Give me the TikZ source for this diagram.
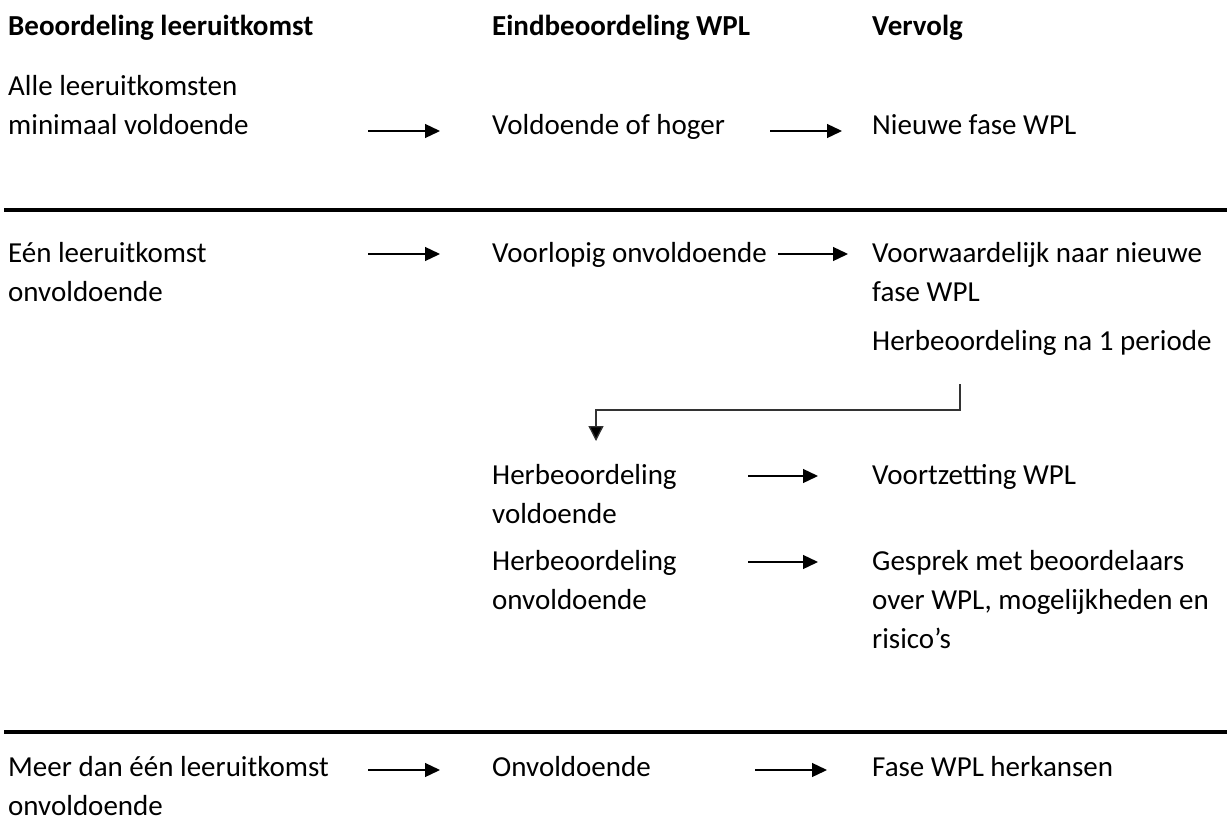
\documentclass[tikz,border=0pt]{standalone}
\usepackage{fontspec}
\setmainfont{Carlito}
\usetikzlibrary{arrows.meta}
\begin{document}
\begin{tikzpicture}[x=1pt,y=-1pt,
  txt/.style={anchor=base west,inner sep=0pt,align=left,font=\fontsize{29}{39}\selectfont},
  hdr/.style={anchor=base west,inner sep=0pt,align=left,font=\fontsize{29}{39}\selectfont\bfseries},
  arr/.style={line width=1.3pt,-{Triangle[length=15pt,width=14pt]}},
  rulebar/.style={line width=4pt},
  elbow/.style={line width=1.3pt,draw=black!80,-{Triangle[length=15pt,width=15pt,fill=black]}}]
\useasboundingbox (0,0) rectangle (1227,822);

% headers
\node[hdr] (h1) at (8,35) {Beoordeling leeruitkomst};
\node[hdr] (h2) at (492,35) {Eindbeoordeling WPL};
\node[hdr] (h3) at (872,35) {Vervolg};

% row 1 (anchor = baseline of last line)
\node[txt] (a1) at (8,134) {Alle leeruitkomsten\\minimaal voldoende};
\node[txt] (b1) at (492,134) {Voldoende of hoger};
\node[txt] (c1) at (872,134) {Nieuwe fase WPL};
\coordinate (a1s) at (368,131); \coordinate (a1e) at (440,131);
\coordinate (b1s) at (770,131); \coordinate (b1e) at (842,131);
\draw[arr] (a1s) -- (a1e);
\draw[arr] (b1s) -- (b1e);

\coordinate (r1l) at (4,210); \coordinate (r1r) at (1227,210);
\draw[rulebar] (r1l) -- (r1r);

% row 2
\node[txt] (a2) at (8,301) {Eén leeruitkomst\\onvoldoende};
\node[txt] (b2) at (492,262) {Voorlopig onvoldoende};
\node[txt] (c2) at (872,301) {Voorwaardelijk naar nieuwe\\fase WPL};
\node[txt] (c2b) at (872,350) {Herbeoordeling na 1 periode};
\coordinate (a2s) at (368,254); \coordinate (a2e) at (440,254);
\coordinate (b2s) at (778,254); \coordinate (b2e) at (848,254);
\draw[arr] (a2s) -- (a2e);
\draw[arr] (b2s) -- (b2e);

\coordinate (e1) at (960,384); \coordinate (e2) at (960,410);
\coordinate (e3) at (596,410); \coordinate (e4) at (596,441);
\draw[elbow] (e1) -- (e2) -- (e3) -- (e4);

\node[txt] (b3) at (492,523) {Herbeoordeling\\voldoende};
\node[txt] (c3) at (872,484) {Voortzetting WPL};
\coordinate (b3s) at (748,476); \coordinate (b3e) at (818,476);
\draw[arr] (b3s) -- (b3e);

\node[txt] (b4) at (492,609) {Herbeoordeling\\onvoldoende};
\node[txt] (c4) at (872,648) {Gesprek met beoordelaars\\over WPL, mogelijkheden en\\risico’s};
\coordinate (b4s) at (748,562); \coordinate (b4e) at (818,562);
\draw[arr] (b4s) -- (b4e);

\coordinate (r2l) at (4,732); \coordinate (r2r) at (1227,732);
\draw[rulebar] (r2l) -- (r2r);

% row 3
\node[txt] (a5) at (8,815) {Meer dan één leeruitkomst\\onvoldoende};
\node[txt] (b5) at (492,776) {Onvoldoende};
\node[txt] (c5) at (872,776) {Fase WPL herkansen};
\coordinate (a5s) at (368,770); \coordinate (a5e) at (440,770);
\coordinate (b5s) at (755,770); \coordinate (b5e) at (827,770);
\draw[arr] (a5s) -- (a5e);
\draw[arr] (b5s) -- (b5e);
\end{tikzpicture}
\end{document}
